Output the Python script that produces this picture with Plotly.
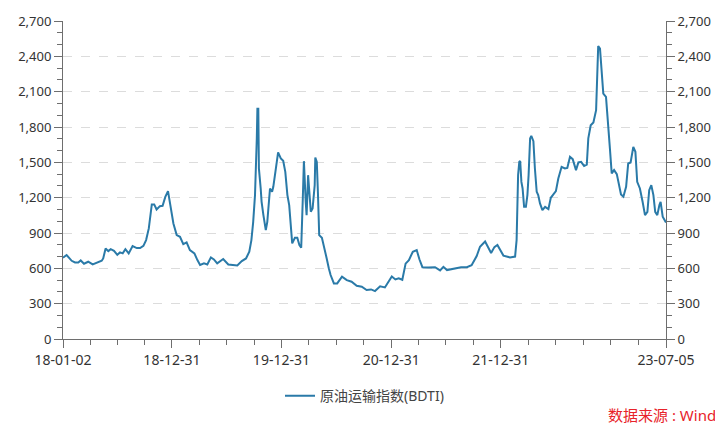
import plotly.graph_objects as go

dates = [
    "2018-01-02", "2018-01-14", "2018-01-31", "2018-02-11", "2018-02-22", "2018-03-02", "2018-03-13",
    "2018-03-27", "2018-04-11", "2018-04-24", "2018-05-11", "2018-05-16", "2018-05-24", "2018-06-02",
    "2018-06-10", "2018-06-21", "2018-07-02", "2018-07-11", "2018-07-20", "2018-07-29", "2018-08-09",
    "2018-08-22", "2018-09-05", "2018-09-16", "2018-09-27", "2018-10-06", "2018-10-15", "2018-10-25",
    "2018-11-02", "2018-11-10", "2018-11-21", "2018-11-30", "2018-12-09", "2018-12-18", "2018-12-25",
    "2019-01-05", "2019-01-16", "2019-01-27", "2019-02-07", "2019-02-18", "2019-03-01", "2019-03-16",
    "2019-03-26", "2019-04-04", "2019-04-17", "2019-04-28", "2019-05-10", "2019-05-20", "2019-05-31",
    "2019-06-20", "2019-07-07", "2019-07-24", "2019-08-06", "2019-08-21", "2019-09-04", "2019-09-15",
    "2019-09-22", "2019-09-28", "2019-10-04", "2019-10-10", "2019-10-12", "2019-10-15", "2019-10-17",
    "2019-10-23", "2019-10-26", "2019-11-01", "2019-11-09", "2019-11-14", "2019-11-23", "2019-11-30",
    "2019-12-04", "2019-12-11", "2019-12-20", "2019-12-29", "2020-01-06", "2020-01-13", "2020-01-20",
    "2020-01-26", "2020-02-01", "2020-02-05", "2020-02-14", "2020-02-22", "2020-02-29", "2020-03-06",
    "2020-03-11", "2020-03-15", "2020-03-21", "2020-03-24", "2020-03-29", "2020-04-02", "2020-04-07",
    "2020-04-13", "2020-04-20", "2020-04-22", "2020-04-27", "2020-05-01", "2020-05-05", "2020-05-14",
    "2020-05-21", "2020-05-30", "2020-06-06", "2020-06-12", "2020-06-23", "2020-07-04", "2020-07-20",
    "2020-08-05", "2020-08-21", "2020-09-07", "2020-09-24", "2020-10-10", "2020-10-25", "2020-11-07",
    "2020-11-24", "2020-12-10", "2021-01-02", "2021-01-14", "2021-01-25", "2021-02-06", "2021-02-17",
    "2021-02-28", "2021-03-13", "2021-03-26", "2021-04-04", "2021-04-14", "2021-05-04", "2021-05-26",
    "2021-06-12", "2021-06-23", "2021-07-05", "2021-07-28", "2021-08-21", "2021-09-09", "2021-09-25",
    "2021-10-12", "2021-10-23", "2021-11-09", "2021-11-20", "2021-11-29", "2021-12-10", "2021-12-20",
    "2022-01-09", "2022-01-31", "2022-02-17", "2022-02-22", "2022-02-27", "2022-03-03", "2022-03-06",
    "2022-03-10", "2022-03-14", "2022-03-19", "2022-03-25", "2022-03-30", "2022-04-03", "2022-04-08",
    "2022-04-12", "2022-04-19", "2022-04-24", "2022-04-30", "2022-05-05", "2022-05-11", "2022-05-19",
    "2022-05-28", "2022-06-08", "2022-06-16", "2022-06-24", "2022-07-03", "2022-07-11", "2022-07-22",
    "2022-08-02", "2022-08-10", "2022-08-19", "2022-08-28", "2022-09-08", "2022-09-16", "2022-09-25",
    "2022-10-05", "2022-10-14", "2022-10-19", "2022-10-27", "2022-11-05", "2022-11-14", "2022-11-18",
    "2022-11-21", "2022-11-27", "2022-12-03", "2022-12-08", "2022-12-17", "2022-12-25", "2022-12-30",
    "2023-01-05", "2023-01-13", "2023-01-22", "2023-01-29", "2023-02-05", "2023-02-13", "2023-02-22",
    "2023-03-01", "2023-03-09", "2023-03-18", "2023-03-25", "2023-03-31", "2023-04-09", "2023-04-18",
    "2023-04-26", "2023-05-04", "2023-05-10", "2023-05-17", "2023-05-24", "2023-05-30", "2023-06-06",
    "2023-06-13", "2023-06-17", "2023-06-24", "2023-07-01", "2023-07-05",
]

bdti = [
    690, 713, 664, 650, 650, 667, 639,
    656, 633, 647, 664, 684, 769, 746,
    763, 749, 715, 735, 727, 763, 727,
    789, 772, 772, 791, 840, 939, 1143,
    1143, 1100, 1128, 1131, 1207, 1255, 1151,
    981, 882, 868, 806, 820, 755, 727,
    670, 628, 642, 633, 693, 676, 642,
    679, 633, 628, 625, 662, 684, 741,
    840, 995, 1222, 1703, 1955, 1955, 1448,
    1278, 1165, 1052, 925, 995, 1278, 1250,
    1292, 1419, 1584, 1533, 1513, 1419, 1222,
    1137, 882, 812, 860, 860, 797, 775,
    1165, 1510, 1165, 1052, 1391, 1222, 1080,
    1108, 1306, 1541, 1504, 1222, 882, 860,
    769, 684, 600, 543, 472, 472, 529,
    500, 486, 452, 444, 416, 421, 407,
    447, 438, 531, 506, 516, 503, 640,
    670, 741, 755, 677, 610, 608, 610,
    582, 613, 585, 600, 610, 610, 626,
    705, 783, 828, 769, 730, 780, 798,
    708, 693, 700, 840, 1391, 1504, 1510,
    1334, 1278, 1122, 1122, 1222, 1391, 1703,
    1725, 1680, 1448, 1250, 1222, 1151, 1094,
    1122, 1103, 1199, 1226, 1255, 1363, 1462,
    1448, 1453, 1547, 1527, 1434, 1499, 1504,
    1470, 1481, 1703, 1815, 1839, 1943, 2240,
    2488, 2466, 2212, 2084, 2056, 1815, 1618,
    1406, 1434, 1400, 1306, 1227, 1208, 1292,
    1490, 1499, 1631, 1589, 1334, 1278, 1165,
    1052, 1080, 1264, 1306, 1222, 1080, 1052,
    1137, 1165, 1038, 1009, 990,
]

x_label_dates = ["2018-01-02", "2018-12-31", "2019-12-31", "2020-12-31", "2021-12-31", "2023-07-05"]
x_label_text = ["18-01-02", "18-12-31", "19-12-31", "20-12-31", "21-12-31", "23-07-05"]
x_minor_dates = [
    "2018-04-02", "2018-07-02", "2018-10-01",
    "2019-04-01", "2019-07-01", "2019-10-01",
    "2020-03-31", "2020-06-30", "2020-09-30",
    "2021-03-31", "2021-06-30", "2021-09-30",
    "2022-04-02", "2022-07-03", "2022-10-02", "2023-01-02", "2023-04-04",
]
y_ticks = [0, 300, 600, 900, 1200, 1500, 1800, 2100, 2400, 2700]
y_tick_text = ["0", "300", "600", "900", "1,200", "1,500", "1,800", "2,100", "2,400", "2,700"]

series_name = "原油运输指数(BDTI)"
source_text = "数据来源 : Wind"

FONT = "Noto Sans, Noto Sans CJK SC, sans-serif"
LINE_COLOR = "#2a7aa8"
AXIS_COLOR = "#6e6e6e"

fig = go.Figure()
fig.add_trace(go.Scatter(x=dates, y=bdti, mode="lines", name=series_name,
                         line=dict(color=LINE_COLOR, width=2)))
fig.add_trace(go.Scatter(x=dates, y=bdti, mode="lines", yaxis="y2", showlegend=False,
                         hoverinfo="skip", line=dict(color="rgba(0,0,0,0)", width=0)))

yaxis_common = dict(
    range=[0, 2700], tickmode="array", tickvals=y_ticks, ticktext=y_tick_text,
    ticks="outside", ticklen=8, tickcolor=AXIS_COLOR, tickwidth=1,
    showline=True, linecolor=AXIS_COLOR, linewidth=1,
    tickfont=dict(family=FONT, size=13, color="#333333"),
    minor=dict(dtick=100, tick0=0, ticks="outside", ticklen=5, tickcolor=AXIS_COLOR, showgrid=False),
    zeroline=False, fixedrange=True, automargin=False,
)

# the page body adds an 8px offset, so the figure is 8px smaller and shifted
fig.update_layout(
    width=715, height=421,
    margin=dict(l=55, r=57, t=13, b=90, autoexpand=False),
    paper_bgcolor="white", plot_bgcolor="white",
    showlegend=True,
    legend=dict(orientation="h", x=0.5, xanchor="center", y=-0.18, yanchor="middle",
                font=dict(family=FONT, size=14, color="#444444")),
    xaxis=dict(
        type="date", range=["2018-01-02", "2023-07-05"],
        tickmode="array", tickvals=x_label_dates, ticktext=x_label_text,
        ticks="outside", ticklen=8, tickcolor=AXIS_COLOR,
        showline=True, linecolor=AXIS_COLOR, linewidth=1, showgrid=False,
        tickfont=dict(family=FONT, size=14, color="#333333"),
        minor=dict(tickvals=x_minor_dates, ticks="outside", ticklen=5, tickcolor=AXIS_COLOR, showgrid=False),
        zeroline=False, automargin=False,
    ),
    yaxis=dict(**yaxis_common, side="left", showgrid=True, gridcolor="#dcdcdc", griddash="dash", gridwidth=1),
    yaxis2=dict(**yaxis_common, side="right", overlaying="y", anchor="x", showgrid=False),
    annotations=[dict(text=source_text, xref="paper", yref="paper", x=1.086, y=-0.24,
                      xanchor="right", yanchor="middle", showarrow=False,
                      font=dict(family=FONT, size=15, color="#e8232a"))],
)

fig.write_html("out.html")
